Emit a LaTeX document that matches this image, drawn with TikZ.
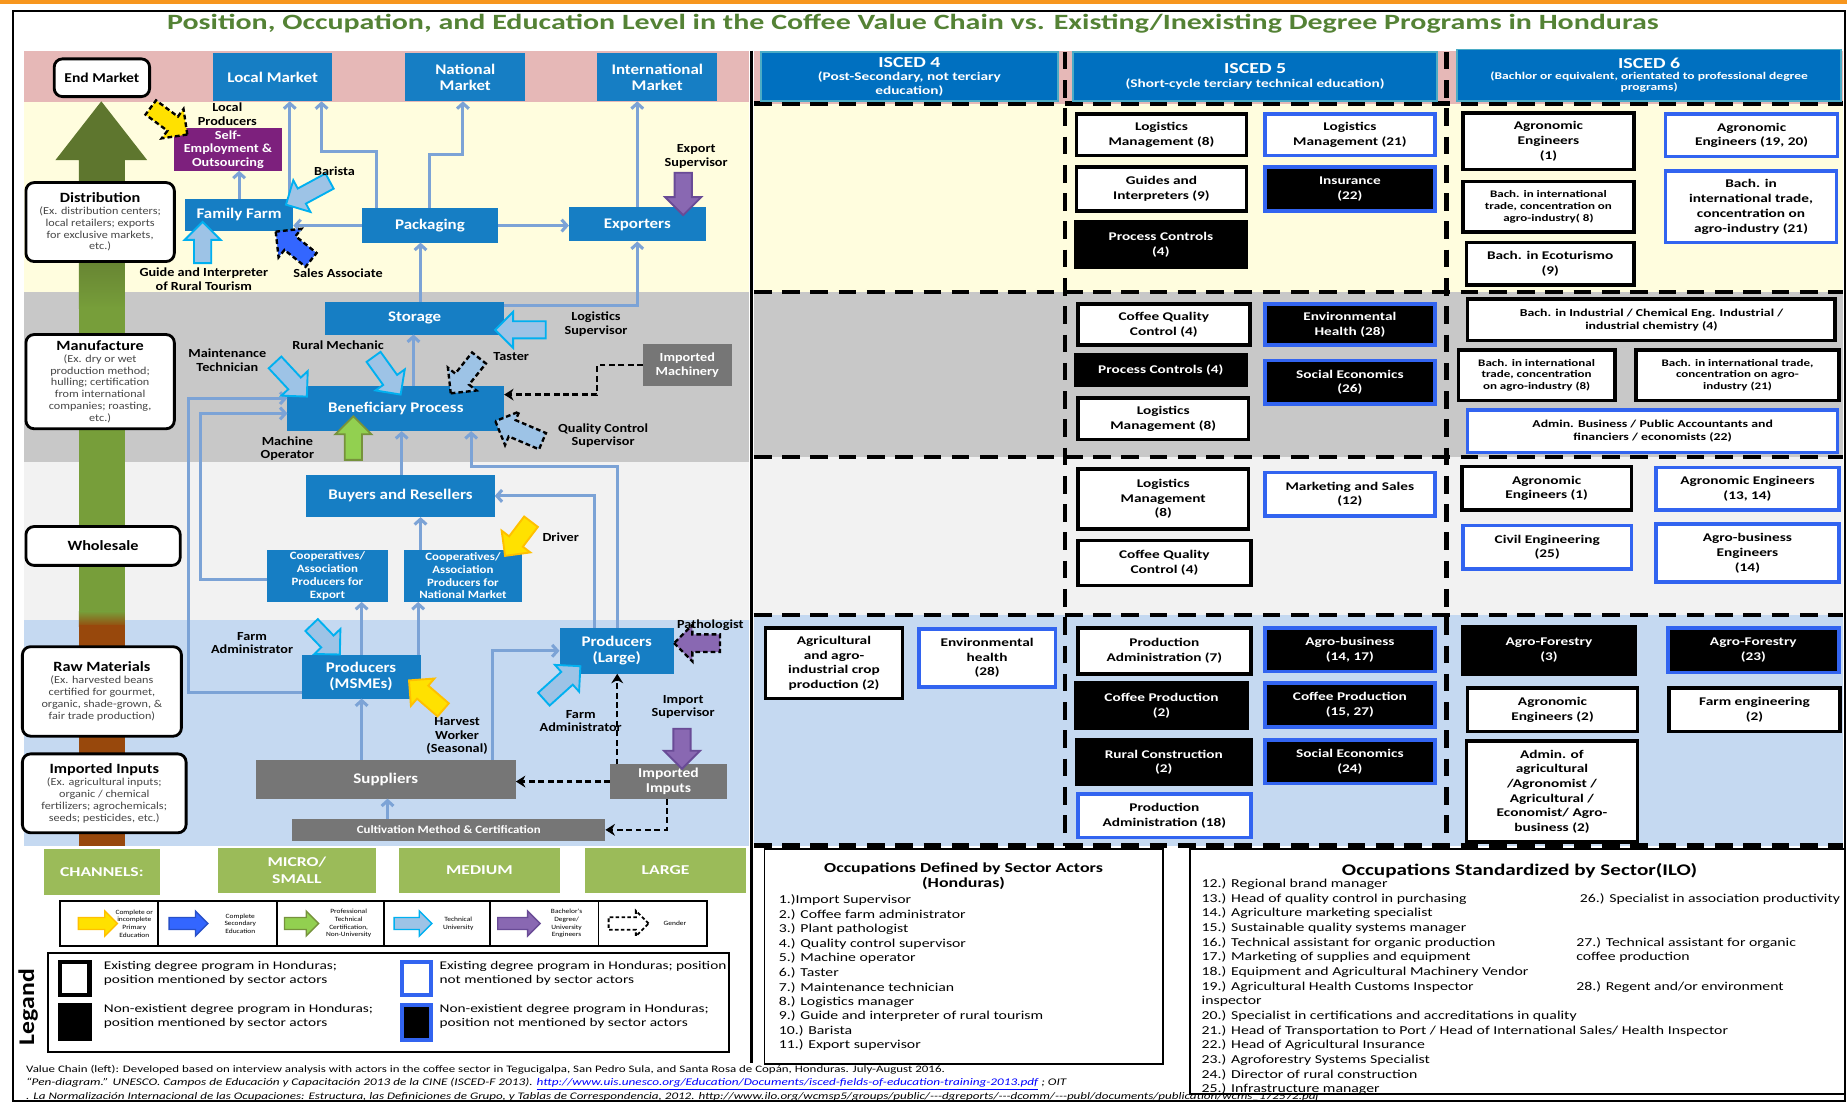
\documentclass[tikz,border=0pt]{standalone}
\usepackage{fontspec}
\usepackage{graphicx}
\setmainfont{Carlito}
\newfontfamily\fcl{Carlito}[FakeStretch=1.15]
\newfontfamily\fcw{Carlito}[FakeStretch=1.3]
\usetikzlibrary{shapes.arrows,arrows.meta,calc}
\definecolor{nblue}{RGB}{22,126,196}
\definecolor{hblue}{RGB}{0,112,192}
\definecolor{hbord}{RGB}{75,172,198}
\definecolor{ngray}{RGB}{118,118,118}
\definecolor{npurp}{RGB}{125,32,125}
\definecolor{conblue}{RGB}{124,163,214}
\definecolor{bpink}{RGB}{230,184,183}
\definecolor{byel}{RGB}{255,253,222}
\definecolor{bgray}{RGB}{200,200,200}
\definecolor{blight}{RGB}{242,242,242}
\definecolor{bblue}{RGB}{197,217,241}
\definecolor{boxbl}{RGB}{50,100,240}
\definecolor{chgreen}{RGB}{155,187,89}
\definecolor{ttlgreen}{RGB}{84,130,53}
\definecolor{olivec}{RGB}{94,118,46}
\definecolor{lgreenc}{RGB}{119,158,58}
\definecolor{cbrown}{RGB}{152,72,12}
\definecolor{afill}{RGB}{157,195,230}
\definecolor{acyan}{RGB}{0,176,240}
\definecolor{ayel}{RGB}{255,225,0}
\definecolor{ayelb}{RGB}{255,192,0}
\definecolor{apur}{RGB}{137,104,178}
\definecolor{apurb}{RGB}{105,75,150}
\definecolor{agrn}{RGB}{146,208,80}
\definecolor{agrnb}{RGB}{118,146,60}
\definecolor{adblue}{RGB}{51,102,255}
\definecolor{adblueb}{RGB}{40,80,200}
\definecolor{orangec}{RGB}{247,150,30}
\definecolor{descc}{RGB}{70,70,70}

\newcommand\mybx[7]{\pgfmathsetmacro\mybw{#5-#3}\pgfmathsetmacro\mybh{#6-#4}\pgfmathsetmacro\mycx{(#3+#5)/2}\pgfmathsetmacro\mycy{(#4+#6)/2}\node[#1, minimum width=\mybw pt, minimum height=\mybh pt] (#2) at (\mycx,\mycy) {#7};}
\newcommand\myfa[4]{\path let \p1=($(#4)-(#3)$), \n1={veclen(\x1,\y1)}, \n2={atan2(\y1,\x1)} in node[fat,#1,minimum height=\n1,rotate=\n2] (#2) at ($(#3)!0.5!(#4)$) {};}
\newcommand\stgh[1]{{\color{black}\bfseries\fontsize{12}{13}\selectfont #1}}

\tikzset{
 bb/.style={rectangle, fill=nblue, text=white, align=center, inner sep=0pt, outer sep=0pt, font=\fcl\bfseries\fontsize{12.5}{13.5}\selectfont},
 gb/.style={bb, fill=ngray},
 pb/.style={bb, fill=npurp},
 stg/.style={rectangle, rounded corners=7pt, draw=black, line width=2.4pt, fill=white, align=center, inner sep=0pt, outer sep=0pt, font=\fcl\fontsize{9}{10}\selectfont, text=descc},
 conn/.style={draw=conblue, line width=2.6pt, -{Straight Barb[length=4.5pt,width=10pt]}},
 dconn/.style={draw=black, line width=2pt, dash pattern=on 5pt off 3pt, -{Stealth[length=8pt,width=10pt]}},
 lab/.style={align=center, inner sep=0pt, font=\fcl\bfseries\fontsize{10.5}{11.5}\selectfont},
 fat/.style={single arrow, inner sep=6.5pt, single arrow head extend=8pt, line width=1.6pt, anchor=center},
 efat/.style={inner sep=4.5pt, single arrow head extend=5.5pt, line width=1.2pt},
 ltb/.style={fill=afill, draw=acyan},
 ltbd/.style={fill=afill, draw=black, dash pattern=on 4pt off 2.5pt, line width=2pt},
 ylw/.style={fill=ayel, draw=ayelb},
 ylwd/.style={fill=ayel, draw=black, dash pattern=on 4pt off 2.5pt, line width=2pt},
 dbd/.style={fill=adblue, draw=black, dash pattern=on 4pt off 2.5pt, line width=2pt},
 blu/.style={fill=adblue, draw=adblueb},
 pur/.style={fill=apur, draw=apurb},
 purd/.style={fill=apur, draw=black, dash pattern=on 4pt off 2.5pt, line width=2pt},
 grn/.style={fill=agrn, draw=agrnb},
 wdash/.style={fill=white, draw=black, dash pattern=on 3pt off 2pt, line width=1.6pt},
 rb/.style={rectangle, align=center, inner sep=0pt, outer sep=0pt, line width=3pt, font=\fcw\bfseries\fontsize{10}{12.5}\selectfont},
 wb/.style={rb, fill=white, draw=black},
 wbl/.style={rb, fill=white, draw=boxbl},
 kb/.style={rb, fill=black, draw=black, text=white},
 kbl/.style={rb, fill=black, draw=boxbl, text=white},
 sm/.style={font=\fcw\bfseries\fontsize{8.5}{10}\selectfont},
 mn/.style={font=\fcw\bfseries\fontsize{9}{11}\selectfont},
 hd/.style={rectangle, fill=hblue, draw=hbord, line width=1.5pt, text=white, align=center, inner sep=0pt, outer sep=0pt, font=\fcw\bfseries\fontsize{10}{11.5}\selectfont},
 dsh/.style={draw=black, line width=4pt, dash pattern=on 15pt off 9pt},
 ch/.style={rectangle, fill=chgreen, text=white, align=center, inner sep=0pt, font=\fcw\bfseries\fontsize{11.5}{14}\selectfont},
 etx/.style={align=center, inner sep=0pt, font=\fcl\fontsize{5.5}{6.5}\selectfont},
 occ/.style={anchor=west, inner sep=0pt, font=\fcw\fontsize{10.3}{11}\selectfont},
 obox/.style={rectangle, draw=black, line width=1.5pt, fill=white, inner sep=0pt},
 lgt/.style={anchor=west, align=left, inner sep=0pt, font=\fcw\fontsize{10}{12}\selectfont},
 sqbase/.style={rectangle, inner sep=0pt, line width=3.5pt},
}

\begin{document}
\begin{tikzpicture}[x=1pt,y=-1pt]
\useasboundingbox (0,0) rectangle (1568,936);
\fill[white] (0,0) rectangle (1568,936);
\fill[orangec] (0,0) rectangle (1568,3.5);
\draw[black, line width=1.8pt] (11,9) rectangle (1566,935);

% title
\node[text=ttlgreen, inner sep=0pt] (title) at (775,20) {\resizebox{1266pt}{13pt}{\bfseries Position, Occupation, and Education Level in the Coffee Value Chain vs. Existing/Inexisting Degree Programs in Honduras}};

% bands
\fill[bpink] (20,43) rectangle (636,86.5);
\fill[byel] (20,86.5) rectangle (636,248);
\fill[bgray] (20,248) rectangle (636,392);
\fill[blight] (20,392) rectangle (636,526);
\fill[bblue] (20,526) rectangle (636,718);
\fill[bpink] (640,43) rectangle (1565,88);
\fill[byel] (640,88) rectangle (1565,248);
\fill[bgray] (640,248) rectangle (1565,388);
\fill[blight] (640,388) rectangle (1565,522);
\fill[bblue] (640,522) rectangle (1565,718);

% big value chain arrow
\fill[olivec] (86,86) -- (125,136) -- (106,136) -- (106,200) -- (67,200) -- (67,136) -- (47,136) -- cycle;
\shade[top color=olivec, bottom color=lgreenc] (67,199) rectangle (106,262);
\fill[lgreenc] (67,261) rectangle (106,520);
\shade[top color=lgreenc, bottom color=cbrown] (67,519) rectangle (106,532);
\fill[cbrown] (67,531) rectangle (106,718);

% stage boxes
\mybx{stg, font=\fcl\bfseries\fontsize{11.5}{12.5}\selectfont, text=black}{em}{46}{50}{127}{82}{End Market}
\mybx{stg}{dist}{22}{155}{148}{222}{\stgh{Distribution}\\(Ex. distribution centers;\\local retailers; exports\\for exclusive markets,\\etc.)}
\mybx{stg}{manu}{22}{284}{148}{364}{\stgh{Manufacture}\\(Ex. dry or wet\\production method;\\hulling; certification\\from international\\companies; roasting,\\etc.)}
\mybx{stg, font=\fcl\bfseries\fontsize{12}{13}\selectfont, text=black}{whole}{22}{447}{153}{480}{Wholesale}
\mybx{stg}{raw}{19}{549}{154}{625}{\stgh{Raw Materials}\\(Ex. harvested beans\\certified for gourmet,\\organic, shade-grown, \&\\fair trade production)}
\mybx{stg}{impin}{19}{640}{158}{707}{\stgh{Imported Inputs}\\(Ex. agricultural inputs;\\organic / chemical\\fertilizers; agrochemicals;\\seeds; pesticides, etc.)}

% chain nodes
\mybx{bb}{lm}{181}{45}{282}{86}{Local Market}
\mybx{bb}{nm}{344}{45}{446}{86}{National\\Market}
\mybx{bb}{im}{507}{45}{609}{86}{International\\Market}
\mybx{pb, font=\fcl\bfseries\fontsize{10.5}{11.5}\selectfont}{se}{148}{109}{239}{145}{Self-\\Employment \&\\Outsourcing}
\mybx{bb}{ff}{157}{169}{249}{196}{Family Farm}
\mybx{bb}{pk}{307}{177}{423}{206}{Packaging}
\mybx{bb}{ex}{483}{176}{599}{205}{Exporters}
\mybx{bb}{st}{276}{256}{428}{284}{Storage}
\mybx{bb}{bp}{244}{328}{428}{366}{Beneficiary Process}
\mybx{gb, font=\fcl\bfseries\fontsize{10.5}{12}\selectfont}{imach}{546}{292}{621}{328}{Imported\\Machinery}
\mybx{bb}{br}{260}{403}{420}{439}{Buyers and Resellers}
\mybx{bb, font=\fcl\bfseries\fontsize{9.5}{10.8}\selectfont}{ce}{227}{467}{329}{511}{Cooperatives/\\Association\\Producers for\\Export}
\mybx{bb, font=\fcl\bfseries\fontsize{9.5}{10.8}\selectfont}{cn}{343}{467}{443}{511}{Cooperatives/\\Association\\Producers for\\National Market}
\mybx{bb}{pm}{256}{556}{357}{593}{Producers\\(MSMEs)}
\mybx{bb}{pl}{475}{533}{572}{572}{Producers\\(Large)}
\mybx{gb}{sup}{217}{645}{438}{678}{Suppliers}
\mybx{gb, font=\fcl\bfseries\fontsize{11.5}{12.5}\selectfont}{iimp}{518}{649}{617}{678}{Imported\\Imputs}
\mybx{gb, font=\fcl\bfseries\fontsize{9.5}{10}\selectfont}{cult}{248}{695}{514}{714}{Cultivation Method \& Certification}

% connectors
\draw[conn] (ff.north) -- (ff.north |- se.south);
\draw[conn] ($(ff.north west)+(89,0)$) -- ($(lm.south west)+(65,0)$);
\draw[conn] ($(pk.north west)+(13,0)$) -- ++(0,-48) -| ($(lm.south west)+(92,0)$);
\draw[conn] ($(pk.north west)+(58,0)$) -- ++(0,-46) -| ($(nm.south west)+(49,0)$);
\draw[conn] (pk.west) -- (pk.west -| ff.east);
\draw[conn] (pk.east) -- (pk.east -| ex.west);
\draw[conn] (ex.north) -- (ex.north |- im.south);
\draw[conn] ($(st.north west)+(81,0)$) -- ($(pk.south west)+(50,0)$);
\draw[conn] ($(st.north east)+(0,3)$) -| (ex.south);
\draw[conn] ($(bp.north west)+(107,0)$) -- ($(st.south west)+(75,0)$);
\draw[conn] ($(br.north west)+(81,0)$) -- ($(bp.south west)+(97,0)$);
\draw[conn] ($(cn.north west)+(14,0)$) -- ($(br.south west)+(97,0)$);
\draw[conn] ($(ce.west)+(0,3)$) -- ++(-57,0) |- ($(bp.north west)+(0,23)$);
\draw[conn] ($(pm.south west)+(0,-5)$) -- ++(-96,0) |- ($(bp.north west)+(0,10)$);
\draw[conn] ($(pm.north west)+(51,0)$) -- ($(ce.south west)+(80,0)$);
\draw[conn] ($(pm.north west)+(99,0)$) -- ($(cn.south west)+(12,0)$);
\draw[conn] ($(pl.north west)+(30,0)$) |- (br.east);
\draw[conn] ($(pl.north west)+(49,0)$) -- ++(0,-137) -| ($(bp.south west)+(156,0)$);
\draw[conn] ($(sup.north west)+(90,0)$) -- ($(pm.south west)+(51,0)$);
\draw[conn] ($(sup.north west)+(201,0)$) |- (pl.west);
\draw[conn] ($(cult.north west)+(81,0)$) -- ($(sup.south west)+(112,0)$);
\draw[dconn] (imach.west) -- ++(-39,0) |- ($(bp.north east)+(0,7)$);
\draw[dconn] (iimp.west) -- (iimp.west -| sup.east);
\draw[dconn] ($(iimp.north west)+(6,0)$) -- ($(pl.south west)+(49,0)$);
\draw[dconn] ($(iimp.south west)+(48,0)$) |- (cult.east);

% occupation arrows
\myfa{ylwd}{aLP}{125,89}{156,112}
\myfa{ltb}{aBa}{283,152}{246,172}
\myfa{ltb}{aGu}{172,227}{172,192}
\myfa{dbd}{aSA}{267,223}{237,199}
\myfa{pur}{aES}{580,143}{580,179}
\myfa{ltb}{aLS}{467,280}{424,280}
\myfa{ltb}{aMT}{231,305}{258,334}
\myfa{ltb}{aRM}{315,300}{338,332}
\myfa{ltbd}{aTa}{409,301}{385,331}
\myfa{ltbd}{aQC}{464,376}{424,359}
\myfa{grn}{aMO}{300,394}{300,357}
\myfa{ylw}{aDr}{453,440}{431,469}
\myfa{ltb}{aFA1}{262,528}{286,553}
\myfa{ylw}{aHW}{379,605}{350,580}
\myfa{ltb}{aFA2}{459,596}{490,568}
\myfa{purd}{aPa}{615,546}{576,546}
\myfa{pur}{aIS}{579,615}{579,649}

% labels
\node[lab] (lLP) at (193,97) {Local\\Producers};
\node[lab] (lBa) at (284,145) {Barista};
\node[lab] (lGu) at (173,237) {Guide and Interpreter\\of Rural Tourism};
\node[lab] (lSA) at (287,232) {Sales Associate};
\node[lab] (lES) at (591,133) {Export\\Supervisor};
\node[lab] (lLS) at (506,275) {Logistics\\Supervisor};
\node[lab] (lMT) at (193,306) {Maintenance\\Technician};
\node[lab] (lRM) at (287,293) {Rural Mechanic};
\node[lab] (lTa) at (434,303) {Taster};
\node[lab] (lQC) at (512,370) {Quality Control\\Supervisor};
\node[lab] (lMO) at (244,381) {Machine\\Operator};
\node[lab] (lDr) at (476,456) {Driver};
\node[lab] (lFA1) at (214,546) {Farm\\Administrator};
\node[lab] (lHW) at (388,625) {Harvest\\Worker\\(Seasonal)};
\node[lab] (lFA2) at (493,612) {Farm\\Administrator};
\node[lab] (lPa) at (603,531) {Pathologist};
\node[lab] (lIS) at (580,600) {Import\\Supervisor};

% channels
\mybx{ch}{ch0}{37}{721}{136}{760}{CHANNELS:}
\mybx{ch}{ch1}{185}{720}{319}{758}{MICRO/\\SMALL}
\mybx{ch}{ch2}{339}{720}{475}{758}{MEDIUM}
\mybx{ch}{ch3}{497}{720}{633}{758}{LARGE}

% education legend strip
\mybx{rectangle, draw=black, line width=1.5pt, fill=white, inner sep=0pt}{es}{51}{765}{600}{803}{}
\foreach \xx in {134,235,326,416,508} \draw[black, line width=1.2pt] (\xx,765) -- (\xx,803);
\myfa{efat,ylw}{e1}{64,784}{97,784}
\myfa{efat,blu}{e2}{141,784}{174,784}
\myfa{efat,grn}{e3}{239,784}{268,784}
\myfa{efat,ltb}{e4}{332,784}{364,784}
\myfa{efat,pur}{e5}{420,784}{456,784}
\myfa{efat,wdash}{e6}{514,784}{548,784}
\node[etx] (et1) at (114,784) {Complete or\\incomplete\\Primary\\Education};
\node[etx] (et2) at (204,784) {Complete\\Secondary\\Education};
\node[etx] (et3) at (296,784) {Professional\\Technical\\Certification,\\Non-University};
\node[etx] (et4) at (389,784) {Technical\\University};
\node[etx] (et5) at (481,784) {Bachelor's\\Degree/\\University\\Engineers};
\node[etx] (et6) at (573,784) {Gender};

% legend box
\mybx{obox, line width=2pt}{lg}{41}{809}{619}{893}{}
\mybx{sqbase, fill=white, draw=black}{sq1}{51}{817}{76}{845}{}
\mybx{sqbase, fill=black, draw=black}{sq2}{51}{853}{76}{882}{}
\mybx{sqbase, fill=white, draw=boxbl}{sq3}{341}{817}{366}{845}{}
\mybx{sqbase, fill=black, draw=boxbl}{sq4}{341}{853}{366}{883}{}
\node[lgt] (t1) at (88,826) {Existing degree program in Honduras;\\position mentioned by sector actors};
\node[lgt] (t2) at (88,863) {Non-existient  degree program in Honduras;\\position mentioned by sector actors};
\node[lgt] (t3) at (373,826) {Existing degree program in Honduras; position\\not mentioned by sector actors};
\node[lgt] (t4) at (373,863) {Non-existient  degree program in Honduras;\\position not mentioned by sector actors};
\node[rotate=90, inner sep=0pt, font=\fcl\bfseries\fontsize{19}{20}\selectfont] (legand) at (24,855) {Legand};

% divider
\draw[black, line width=2.5pt] (638,43) -- (638,902);

% right panel dashed grid
\draw[dsh] (640,88) -- (1565,88);
\draw[dsh] (640,248) -- (1565,248);
\draw[dsh] (640,388) -- (1565,388);
\draw[dsh] (640,522) -- (1565,522);
\draw[dsh] (640,718) -- (1565,718);
\draw[dsh] (904,44) -- (904,718);
\draw[dsh] (1228,44) -- (1228,718);

% ISCED headers
\mybx{hd}{h4}{646}{44}{898}{86}{{\fontsize{13}{14}\selectfont ISCED 4}\\(Post-Secondary, not terciary\\education)}
\mybx{hd}{h5}{911}{44}{1220}{86}{{\fontsize{13}{14}\selectfont ISCED 5}\\(Short-cycle terciary technical education)}
\mybx{hd, font=\fcw\bfseries\fontsize{8.8}{9.5}\selectfont}{h6}{1237}{42}{1563}{86}{{\fontsize{13}{14}\selectfont ISCED 6}\\(Bachlor or equivalent, orientated to professional degree\\programs)}

% yellow row
\mybx{wb}{r1}{914}{97}{1058}{132}{Logistics\\Management (8)}
\mybx{wbl}{r2}{1074}{97}{1218}{132}{Logistics\\Management (21)}
\mybx{wb}{r3}{914}{142}{1058}{179}{Guides and\\Interpreters (9)}
\mybx{kbl}{r4}{1074}{142}{1218}{179}{Insurance\\(22)}
\mybx{kb}{r5}{913}{188}{1058}{227}{Process Controls\\(4)}
\mybx{wb}{r6}{1242}{96}{1387}{144}{Agronomic\\Engineers\\(1)}
\mybx{wbl}{r7}{1414}{97}{1560}{133}{Agronomic\\Engineers (19, 20)}
\mybx{wb,sm}{r8}{1242}{154}{1387}{197}{Bach. in international\\trade, concentration on\\agro-industry( 8)}
\mybx{wbl, font=\fcw\bfseries\fontsize{10}{12.7}\selectfont}{r9}{1414}{145}{1559}{206}{Bach. in\\international trade,\\concentration  on\\agro-industry (21)}
\mybx{wb}{r10}{1245}{206}{1387}{242}{Bach. in Ecoturismo\\(9)}
% gray row
\mybx{wb}{r11}{915}{258}{1061}{293}{Coffee Quality\\Control (4)}
\mybx{kbl}{r12}{1074}{258}{1218}{293}{Environmental\\Health (28)}
\mybx{kb}{r13}{913}{301}{1058}{327}{Process Controls (4)}
\mybx{kbl}{r14}{1074}{306}{1218}{343}{Social Economics\\(26)}
\mybx{wb}{r15}{915}{338}{1060}{373}{Logistics\\Management (8)}
\mybx{wb,mn}{r16}{1246}{254}{1558}{289}{Bach. in Industrial / Chemical Eng. Industrial /\\industrial chemistry (4)}
\mybx{wb,sm}{r17}{1238}{297}{1371}{340}{Bach. in international\\trade, concentration\\on agro-industry (8)}
\mybx{wb,sm}{r18}{1389}{297}{1561}{340}{Bach. in international trade,\\concentration on agro-\\industry (21)}
\mybx{wbl,mn}{r19}{1246}{348}{1560}{384}{Admin. Business / Public Accountants and\\financiers / economists (22)}
% light row
\mybx{wb}{r20}{915}{398}{1060}{449}{Logistics\\Management\\(8)}
\mybx{wbl}{r21}{1074}{401}{1218}{438}{Marketing and Sales\\(12)}
\mybx{wb}{r22}{915}{459}{1062}{497}{Coffee Quality\\Control (4)}
\mybx{wb}{r23}{1241}{396}{1385}{433}{Agronomic\\Engineers (1)}
\mybx{wbl}{r24}{1406}{397}{1561}{433}{Agronomic Engineers\\(13, 14)}
\mybx{wbl}{r25}{1242}{446}{1385}{483}{Civil Engineering\\(25)}
\mybx{wbl}{r26}{1406}{445}{1561}{494}{Agro-business\\Engineers\\(14)}
% blue row
\mybx{wb}{r27}{650}{533}{766}{593}{Agricultural\\and agro-\\industrial crop\\production (2)}
\mybx{wbl}{r28}{780}{534}{896}{583}{Environmental\\health\\(28)}
\mybx{wb}{r29}{915}{533}{1062}{572}{Production\\Administration (7)}
\mybx{kbl}{r30}{1074}{533}{1218}{570}{Agro-business\\(14, 17)}
\mybx{kb}{r31}{913}{580}{1059}{618}{Coffee Production\\(2)}
\mybx{kbl}{r32}{1074}{580}{1218}{617}{Coffee Production\\(15, 27)}
\mybx{kb}{r33}{914}{628}{1062}{666}{Rural Construction\\(2)}
\mybx{kbl}{r34}{1074}{628}{1218}{665}{Social Economics\\(24)}
\mybx{wbl}{r35}{915}{674}{1062}{711}{Production\\Administration (18)}
\mybx{kb}{r36}{1242}{532}{1388}{572}{Agro-Forestry\\(3)}
\mybx{kbl}{r37}{1416}{533}{1561}{571}{Agro-Forestry\\(23)}
\mybx{wb}{r38}{1246}{584}{1390}{621}{Agronomic\\Engineers (2)}
\mybx{wb}{r39}{1417}{584}{1562}{621}{Farm engineering\\(2)}
\mybx{wb}{r40}{1245}{629}{1390}{715}{Admin. of\\agricultural\\/Agronomist /\\Agricultural /\\Economist/ Agro-\\business (2)}

% footer
\node[anchor=west, inner sep=0pt] (fn1) at (22,908) {\resizebox{780pt}{!}{\fcw\fontsize{7.5}{9}\selectfont Value Chain (left): Developed based on interview analysis with actors in the coffee sector in Tegucigalpa, San Pedro Sula, and Santa Rosa de Copán, Honduras. July-August 2016.}};
\node[anchor=west, inner sep=0pt] (fn2) at (22,920.5) {\resizebox{883pt}{!}{\fcw\itshape\fontsize{7.5}{9}\selectfont “Pen-diagram.” UNESCO. Campos de Educación y Capacitación 2013 de la CINE (ISCED-F 2013). \textcolor{blue}{\underline{http://www.uis.unesco.org/Education/Documents/isced-fields-of-education-training-2013.pdf}} ; OIT}};
\node[anchor=west, inner sep=0pt] (fn3) at (22,931.5) {\resizebox{1098pt}{!}{\fcw\itshape\fontsize{7.5}{9}\selectfont . La Normalización Internacional de las Ocupaciones: Estructura, las Definiciones de Grupo, y Tablas de Correspondencia, 2012. http://www.ilo.org/wcmsp5/groups/public/{-}{-}{-}dgreports/{-}{-}{-}dcomm/{-}{-}{-}publ/documents/publication/wcms\_172572.pdf}};

% occupations boxes
\mybx{obox}{oc1}{649}{721}{987}{903}{}
\mybx{obox}{oc2}{1010}{721}{1566}{929}{}
\node[align=center, inner sep=0pt, font=\fcw\bfseries\fontsize{11.7}{12.5}\selectfont] (oc1t) at (818,744) {Occupations Defined by Sector Actors\\(Honduras)};
\node[inner sep=0pt, font=\fcw\bfseries\fontsize{13.8}{14}\selectfont] (oc2t) at (1290,739) {Occupations Standardized by Sector(ILO)};
\foreach \t [count=\i] in {1.)Import Supervisor, 2.) Coffee  farm administrator, 3.) Plant pathologist, 4.) Quality control supervisor, 5.) Machine operator, 6.) Taster, 7.) Maintenance technician, 8.) Logistics manager, 9.) Guide and interpreter of rural tourism, 10.) Barista, 11.) Export supervisor}
  \node[occ] (ol\i) at (661,{764.5+12.3*(\i-1)}) {\t};
\foreach \t [count=\i] in {12.)  Regional brand manager, 13.)  Head of quality control in purchasing, 14.) Agriculture marketing specialist, 15.) Sustainable quality systems manager, 16.) Technical assistant for organic production, 17.) Marketing of supplies and equipment, 18.) Equipment and Agricultural Machinery Vendor, 19.) Agricultural Health Customs Inspector, inspector, 20.) Specialist in certifications and accreditations in quality, 21.) Head of Transportation to Port / Head of International Sales/ Health Inspector, 22.) Head of Agricultural Insurance, 23.) Agroforestry Systems Specialist, 24.) Director of rural construction, 25.) Infrastructure manager}
  \node[occ] (or\i) at (1020,{750.5+12.45*(\i-1)}) {\t};
\node[occ] (or26) at (1341,763) {26.) Specialist in association productivity};
\node[occ] (or27) at (1338,800.5) {27.) Technical assistant for organic};
\node[occ] (or27b) at (1338,813) {coffee production};
\node[occ] (or28) at (1338,838) {28.) Regent and/or environment};
\end{tikzpicture}
\end{document}
